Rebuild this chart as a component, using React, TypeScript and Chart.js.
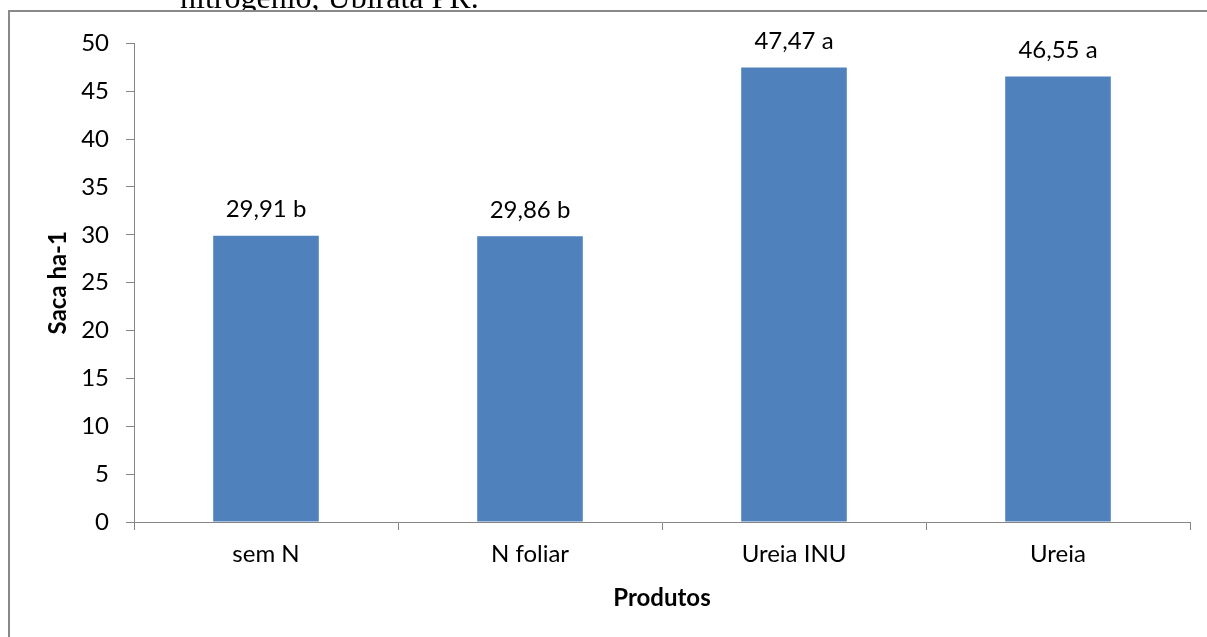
import React, { useEffect, useRef } from "react";
import { Chart, registerables } from "chart.js";

Chart.register(...registerables);

const categories = ["sem N", "N foliar", "Ureia INU", "Ureia"];
const values = [29.91, 29.86, 47.47, 46.55];
const valueLabels = ["29,91 b", "29,86 b", "47,47 a", "46,55 a"];
const yTicks = [0, 5, 10, 15, 20, 25, 30, 35, 40, 45, 50];
const yTitle = "Saca ha-1";
const xTitle = "Produtos";
const caption = "nitrogênio, Ubiratã PR.";

const FONT = "Lato, 'Noto Sans', sans-serif";
const AXIS = "#868686";
const BAR = "#4F81BD";

export default function App() {
  const ref = useRef<HTMLCanvasElement | null>(null);

  useEffect(() => {
    if (!ref.current) return;
    const labelPlugin = {
      id: "valueLabels",
      afterDatasetsDraw(chart: any) {
        const ctx = chart.ctx;
        const meta = chart.getDatasetMeta(0);
        ctx.save();
        ctx.font = `24px ${FONT}`;
        ctx.fillStyle = "#000";
        ctx.textAlign = "center";
        ctx.textBaseline = "middle";
        meta.data.forEach((el: any, i: number) => {
          ctx.fillText(valueLabels[i], el.x, el.y - 26);
        });
        ctx.restore();
      },
    };
    const chart = new Chart(ref.current, {
      type: "bar",
      data: {
        labels: categories,
        datasets: [
          {
            data: values,
            backgroundColor: BAR,
            borderWidth: 0,
            categoryPercentage: 0.4,
            barPercentage: 1,
          },
        ],
      },
      options: {
        responsive: false,
        animation: false,
        devicePixelRatio: 1,
        layout: { padding: { top: 29, right: 17, bottom: 0, left: 0 } },
        plugins: { legend: { display: false }, tooltip: { enabled: false } },
        scales: {
          x: {
            offset: true,
            grid: {
              offset: true,
              drawOnChartArea: false,
              drawTicks: true,
              tickLength: 8,
              color: AXIS,
              lineWidth: 1,
            },
            border: { color: AXIS, width: 1 },
            ticks: {
              color: "#000",
              font: { family: FONT, size: 24 },
              padding: 10,
              maxRotation: 0,
            },
            title: {
              display: true,
              text: xTitle,
              color: "#000",
              font: { family: FONT, size: 24, weight: "bold" },
              padding: { top: 0, bottom: 24 },
            },
            afterFit(scale: any) {
              scale.height = 115;
            },
          },
          y: {
            min: 0,
            max: 50,
            afterBuildTicks(scale: any) {
              scale.ticks = yTicks.map((v) => ({ value: v }));
            },
            grid: {
              drawOnChartArea: false,
              drawTicks: true,
              tickLength: 8,
              color: AXIS,
              lineWidth: 1,
            },
            border: { color: AXIS, width: 1 },
            ticks: {
              color: "#000",
              font: { family: FONT, size: 24 },
              padding: 17,
            },
            title: {
              display: true,
              text: yTitle,
              color: "#000",
              font: { family: FONT, size: 24, weight: "bold" },
              padding: { top: 34, bottom: 0 },
            },
            afterFit(scale: any) {
              scale.width = 124;
            },
          },
        },
      },
      plugins: [labelPlugin],
    } as any);
    return () => chart.destroy();
  }, []);

  return (
    <div>
      <div
        style={{
          position: "fixed",
          left: 180,
          top: -21,
          fontFamily: "'Liberation Serif', 'Times New Roman', serif",
          fontSize: 32,
          lineHeight: "normal",
          whiteSpace: "nowrap",
          color: "#000",
        }}
      >
        {caption}
      </div>
      <div
        style={{
          position: "fixed",
          left: 8,
          top: 10,
          width: 1260,
          height: 700,
          borderLeft: "2px solid #898989",
          borderTop: "2px solid #898989",
          background: "#fff",
        }}
      >
        <canvas ref={ref} width={1197} height={625} style={{ display: "block" }} />
      </div>
    </div>
  );
}
